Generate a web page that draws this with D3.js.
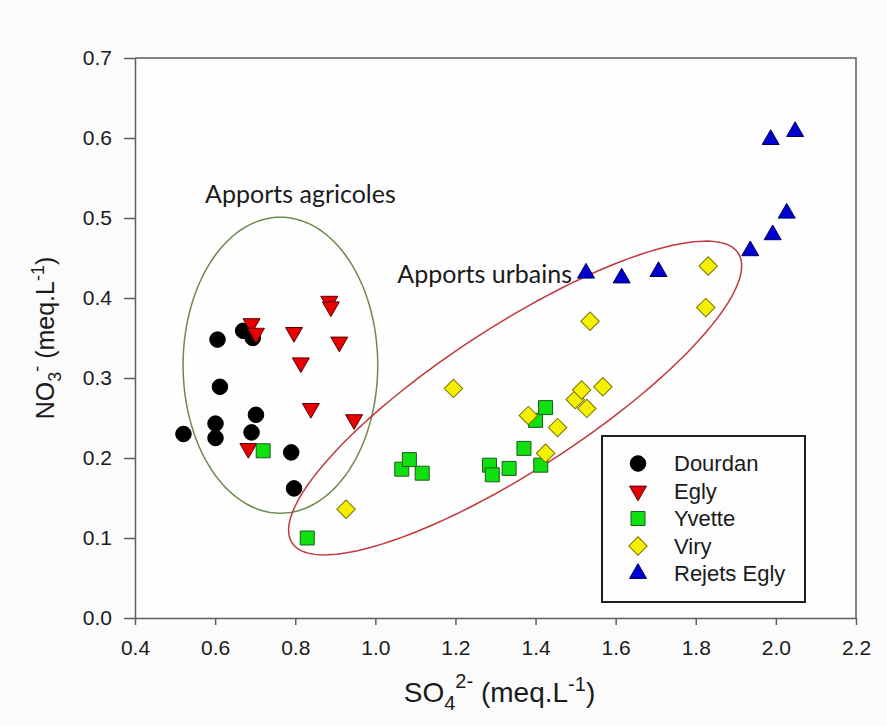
<!DOCTYPE html>
<html>
<head>
<meta charset="utf-8">
<script src="https://cdn.jsdelivr.net/npm/d3@7"></script>
<style>
  body { margin: 0; background: #fbfbfb; }
  svg { display: block; }
</style>
</head>
<body>
<div class="chart"></div>
<script>
// data: [SO4 2-, NO3-] in meq/L
const dourdan = [[0.521,0.230],[0.601,0.243],[0.601,0.225],[0.606,0.348],[0.612,0.289],[0.670,0.359],
                 [0.694,0.350],[0.691,0.232],[0.702,0.254],[0.790,0.207],[0.797,0.162]];
const egly = [[0.683,0.212],[0.691,0.368],[0.702,0.356],[0.797,0.357],[0.814,0.319],[0.839,0.262],
              [0.885,0.396],[0.889,0.389],[0.910,0.345],[0.947,0.248]];
const yvette = [[0.720,0.209],[0.830,0.100],[1.066,0.186],[1.085,0.198],[1.117,0.181],[1.285,0.191],
                [1.292,0.179],[1.334,0.187],[1.371,0.212],[1.400,0.247],[1.413,0.191],[1.425,0.263]];
const viry = [[0.927,0.136],[1.195,0.287],[1.382,0.253],[1.425,0.206],[1.455,0.238],[1.499,0.273],
              [1.515,0.285],[1.528,0.262],[1.536,0.371],[1.568,0.289],[1.825,0.388],[1.831,0.440]];
const rejets = [[1.526,0.431],[1.615,0.425],[1.707,0.433],[1.936,0.459],[1.992,0.479],[2.027,0.506],
                [1.987,0.598],[2.048,0.608]];

const seriesNames = ["Dourdan", "Egly", "Yvette", "Viry", "Rejets Egly"];
const xTicks = [0.4, 0.6, 0.8, 1.0, 1.2, 1.4, 1.6, 1.8, 2.0, 2.2];
const yTicks = [0.0, 0.1, 0.2, 0.3, 0.4, 0.5, 0.6, 0.7];

const width = 887, height = 726;
const x = d3.scaleLinear([0.4, 2.2], [135, 856]);
const y = d3.scaleLinear([0, 0.7], [618, 58]);

const series = [
  {name: seriesNames[0], pts: dourdan, shape: d3.symbolCircle, size: 190, rot: 0, fill: "#000000", stroke: "#000000"},
  {name: seriesNames[1], pts: egly, shape: d3.symbolTriangle, size: 125, rot: 180, fill: "#e60000", stroke: "#5a0000"},
  {name: seriesNames[2], pts: yvette, shape: d3.symbolSquare, size: 196, rot: 0, fill: "#10e010", stroke: "#1f5a1f"},
  {name: seriesNames[3], pts: viry, shape: d3.symbolSquare, size: 170, rot: 45, fill: "#f5f000", stroke: "#7a7400"},
  {name: seriesNames[4], pts: rejets, shape: d3.symbolTriangle, size: 125, rot: 0, fill: "#0000d0", stroke: "#00005a"}
];

const svg = d3.select('.chart').append('svg')
  .attr('width', width).attr('height', height)
  .attr('viewBox', [0, 0, width, height]);

svg.append('rect').attr('width', width).attr('height', height).attr('fill', '#fbfbfb');
svg.append('rect')
  .attr('x', x(0.4)).attr('y', y(0.7))
  .attr('width', x(2.2) - x(0.4)).attr('height', y(0) - y(0.7))
  .attr('fill', '#fefefe');

// hand drawn groupings (center + two semi-axis vectors, in data units)
const regions = [
  {c: [0.763, 0.316], a: [0.243, 0], b: [0, 0.185], color: "#6b8a4e"},
  {c: [1.349, 0.275], a: [0.557, 0.181], b: [0.098, -0.0755], color: "#c0393e"}
];
const ellipseLine = d3.line().x(d => x(d[0])).y(d => y(d[1])).curve(d3.curveLinearClosed);
svg.selectAll('path.region')
  .data(regions)
  .join('path')
  .attr('class', 'region')
  .attr('d', r => ellipseLine(d3.range(0, 360, 2).map(deg => {
      const t = deg * Math.PI / 180;
      return [r.c[0] + Math.cos(t) * r.a[0] + Math.sin(t) * r.b[0],
              r.c[1] + Math.cos(t) * r.a[1] + Math.sin(t) * r.b[1]];
  })))
  .attr('fill', 'none')
  .attr('stroke', r => r.color)
  .attr('stroke-width', 1.5);

// frame
const frameColor = "#5e5e5e";
svg.append('path')
  .attr('d', `M${x(0.4)},${y(0.7)}H${x(2.2)}V${y(0)}`)
  .attr('fill', 'none').attr('stroke', frameColor).attr('stroke-width', 1.5);

const xAxis = svg.append('g')
  .attr('transform', `translate(0,${y(0)})`)
  .call(d3.axisBottom(x).tickValues(xTicks).tickFormat(d3.format('.1f'))
    .tickSize(7).tickPadding(15).tickSizeOuter(0));
const yAxis = svg.append('g')
  .attr('transform', `translate(${x(0.4)},0)`)
  .call(d3.axisLeft(y).tickValues(yTicks).tickFormat(d3.format('.1f'))
    .tickSize(11).tickPadding(12).tickSizeOuter(0));

[xAxis, yAxis].forEach(g => {
  g.select('.domain').attr('stroke', frameColor).attr('stroke-width', 1.5);
  g.selectAll('.tick line').attr('stroke', frameColor).attr('stroke-width', 1.5);
  g.selectAll('.tick text')
    .attr('font-family', '"Liberation Sans", Arial, sans-serif')
    .attr('font-size', 21).attr('fill', '#1a1a1a');
});

// points
series.forEach(s => {
  const sym = d3.symbol(s.shape, s.size);
  svg.append('g').selectAll('path')
    .data(s.pts)
    .join('path')
    .attr('d', sym)
    .attr('transform', d => `translate(${x(d[0])},${y(d[1])}) rotate(${s.rot})`)
    .attr('fill', s.fill)
    .attr('stroke', s.stroke)
    .attr('stroke-width', 1);
});

// annotations
const noteFont = 'Lato, "Open Sans", sans-serif';
svg.append('text').attr('x', x(0.575)).attr('y', y(0.519))
  .attr('font-family', noteFont).attr('font-size', 25).attr('fill', '#1a1a1a')
  .text('Apports agricoles');
svg.append('text').attr('x', x(1.055)).attr('y', y(0.419))
  .attr('font-family', noteFont).attr('font-size', 25).attr('fill', '#1a1a1a')
  .text('Apports urbains');

// legend
const lg = svg.append('g');
lg.append('rect')
  .attr('x', 602).attr('y', 436).attr('width', 203).attr('height', 166)
  .attr('fill', '#fdfdfd').attr('stroke', '#1e1e1e').attr('stroke-width', 2);
const rows = lg.selectAll('g.row')
  .data(series)
  .join('g')
  .attr('class', 'row')
  .attr('transform', (d, i) => `translate(638,${463.5 + i * 27.5})`);
rows.append('path')
  .attr('d', d => d3.symbol(d.shape, d.size)())
  .attr('transform', d => `rotate(${d.rot})`)
  .attr('fill', d => d.fill).attr('stroke', d => d.stroke).attr('stroke-width', 1);
rows.append('text')
  .attr('x', 36).attr('dy', '0.36em')
  .attr('font-family', '"Liberation Sans", Arial, sans-serif')
  .attr('font-size', 22).attr('fill', '#1a1a1a')
  .text(d => d.name);

// axis titles
const titleFont = '"Liberation Sans", Arial, sans-serif';
const xt = svg.append('text')
  .attr('x', (x(0.4) + x(2.2)) / 2 + 4).attr('y', 702)
  .attr('text-anchor', 'middle')
  .attr('font-family', titleFont).attr('font-size', 28).attr('fill', '#1a1a1a');
xt.append('tspan').text('SO');
xt.append('tspan').attr('font-size', 20).attr('dy', 8).text('4');
xt.append('tspan').attr('font-size', 20).attr('dy', -22).text('2-');
xt.append('tspan').attr('dy', 14).text(' (meq.L');
xt.append('tspan').attr('font-size', 20).attr('dy', -11).text('-1');
xt.append('tspan').attr('dy', 11).text(')');

const yt = svg.append('text')
  .attr('transform', `translate(54,${(y(0) + y(0.7)) / 2}) rotate(-90)`)
  .attr('text-anchor', 'middle')
  .attr('font-family', titleFont).attr('font-size', 25).attr('fill', '#1a1a1a');
yt.append('tspan').text('NO');
yt.append('tspan').attr('font-size', 18).attr('dy', 7).text('3');
yt.append('tspan').attr('font-size', 18).attr('dy', -18).text('-');
yt.append('tspan').attr('dy', 11).text(' (meq.L');
yt.append('tspan').attr('font-size', 18).attr('dy', -10).text('-1');
yt.append('tspan').attr('dy', 10).text(')');
</script>
</body>
</html>
